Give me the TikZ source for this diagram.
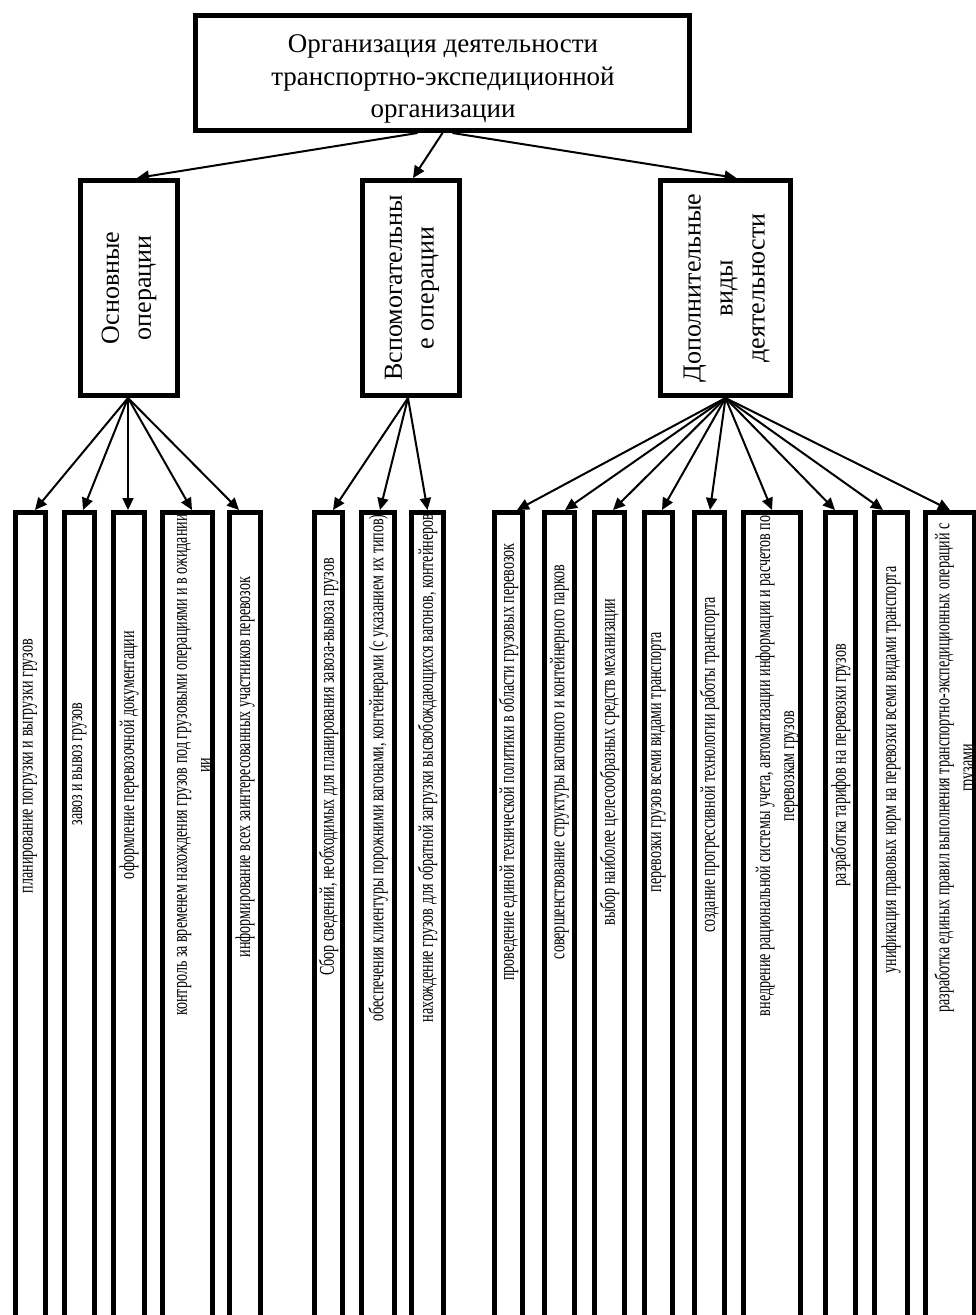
\documentclass[tikz,border=0pt]{standalone}
\usepackage{fontspec}
\setmainfont{Liberation Serif}
\newfontfamily\narrowf[FakeStretch=0.67]{Liberation Serif}
\usetikzlibrary{arrows.meta,calc}
\begin{document}
\begin{tikzpicture}[x=1pt,y=-1pt,
  bigbox/.style={draw, line width=5pt, inner sep=0pt},
  midbox/.style={draw, line width=5pt, minimum height=215pt, inner sep=0pt},
  leafbox/.style={draw, line width=5pt, minimum height=900pt, anchor=north, inner sep=0pt},
  toptext/.style={align=center, font=\fontsize{27}{32.5}\selectfont},
  midtext/.style={rotate=90, align=center, font=\fontsize{26}{32}\selectfont},
  leaftext/.style={rotate=90, align=center, inner sep=0pt, font=\narrowf\fontsize{21}{24}\selectfont},
  arr/.style={line width=2pt, -{Triangle[length=12pt,width=11pt]}}
]
\useasboundingbox (0,0) rectangle (976,1315);
\clip (0,0) rectangle (976,1315);

% top
\node[bigbox, minimum width=494pt, minimum height=115pt] (top) at (442.5,73) {};
\node[toptext] (ttop) at (443,79) {Организация деятельности\\транспортно-экспедиционной\\организации};

% middle level
\node[midbox, minimum width=97pt] (B1) at (129,288) {};
\node[midbox, minimum width=97pt] (B2) at (411,288) {};
\node[midbox, minimum width=130pt] (B3) at (725.5,288) {};
\node[midtext] (T1) at (B1.center) {Основные\\операции};
\node[midtext] (T2) at ([xshift=1pt]B2.center) {Вспомогательны\\е операции};
\node[midtext] (T3) at ([xshift=1pt]B3.center) {Дополнительные\\виды\\деятельности};

\draw[arr] ([xshift=-25pt]top.south) -- ([xshift=8pt]B1.north);
\draw[arr] ([xshift=0pt]top.south) -- ([xshift=2pt]B2.north);
\draw[arr] ([xshift=10pt]top.south) -- ([xshift=11pt]B3.north);

% leaf boxes
\node[leafbox, minimum width=30pt] (L1) at (30,510) {};
\node[leafbox, minimum width=30pt] (L2) at (79.5,510) {};
\node[leafbox, minimum width=31pt] (L3) at (129,510) {};
\node[leafbox, minimum width=50pt] (L4) at (187.5,510) {};
\node[leafbox, minimum width=31pt] (L5) at (245,510) {};
\node[leafbox, minimum width=28pt] (L6) at (328.5,510) {};
\node[leafbox, minimum width=33pt] (L7) at (378,510) {};
\node[leafbox, minimum width=32pt] (L8) at (427.5,510) {};
\node[leafbox, minimum width=28pt] (La) at (508.5,510) {};
\node[leafbox, minimum width=30pt] (Lb) at (559.5,510) {};
\node[leafbox, minimum width=30pt] (Lc) at (609.5,510) {};
\node[leafbox, minimum width=28pt] (Ld) at (658.5,510) {};
\node[leafbox, minimum width=30pt] (Le) at (709.5,510) {};
\node[leafbox, minimum width=57pt] (Lf) at (772,510) {};
\node[leafbox, minimum width=30pt] (Lg) at (840.5,510) {};
\node[leafbox, minimum width=33pt] (Lh) at (891,510) {};
\node[leafbox, minimum width=49pt] (Li) at (950,510) {};

% leaf texts
\node[leaftext] (t1) at (30,766) {планирование погрузки и выгрузки грузов};
\node[leaftext] (t2) at (79.5,764) {завоз и вывоз грузов};
\node[leaftext] (t3) at (129,755) {оформление перевозочной документации};
\begin{scope}
\clip (163,515) rectangle (210,1315);
\node[leaftext] (t4) at (194,765) {контроль за временем нахождения грузов под грузовыми операциями и в ожидании\\ии};
\end{scope}
\node[leaftext] (t5) at (245,767) {информирование всех заинтересованных участников перевозок};
\node[leaftext] (t6) at (328.5,767) {Сбор сведений, необходимых для планирования завоза-вывоза грузов};
\node[leaftext] (t7) at (378,768) {обеспечения клиентуры порожними вагонами, контейнерами (с указанием их типов)};
\node[leaftext] (t8) at (427.5,768) {нахождение грузов для обратной загрузки высвобождающихся вагонов, контейнеров};
\node[leaftext] (ta) at (508.5,762) {проведение единой технической политики в области грузовых перевозок};
\node[leaftext] (tb) at (559.5,762) {совершенствование структуры вагонного и контейнерного парков};
\node[leaftext] (tc) at (609.5,762) {выбор наиболее целесообразных средств механизации};
\node[leaftext] (td) at (658.5,762) {перевозки грузов всеми видами транспорта};
\node[leaftext] (te) at (709.5,765) {создание прогрессивной технологии работы транспорта};
\node[leaftext] (tf) at (777,766) {внедрение рациональной системы учета, автоматизации информации и расчетов по\\перевозкам грузов};
\node[leaftext] (tg) at (840.5,765) {разработка тарифов на перевозки грузов};
\node[leaftext] (th) at (891,770) {унификация правовых норм на перевозки всеми видами транспорта};
\node[leaftext] (ti) at (956,768) {разработка единых правил выполнения транспортно-экспедиционных операций с\\грузами};

% arrows to leaves
\draw[arr] ([xshift=-1pt]B1.south) -- ([xshift=5pt]L1.north);
\draw[arr] ([xshift=-1pt]B1.south) -- ([xshift=3.5pt]L2.north);
\draw[arr] ([xshift=-1pt]B1.south) -- ([xshift=-1pt]L3.north);
\draw[arr] ([xshift=-1pt]B1.south) -- ([xshift=4.5pt]L4.north);
\draw[arr] ([xshift=-1pt]B1.south) -- ([xshift=-6pt]L5.north);

\draw[arr] ([xshift=-3pt]B2.south) -- ([xshift=4.5pt]L6.north);
\draw[arr] ([xshift=-3pt]B2.south) -- ([xshift=2pt]L7.north);
\draw[arr] ([xshift=-3pt]B2.south) -- (L8.north);

\draw[arr] (B3.south) -- ([xshift=8.5pt]La.north);
\draw[arr] (B3.south) -- ([xshift=5.5pt]Lb.north);
\draw[arr] (B3.south) -- ([xshift=3.5pt]Lc.north);
\draw[arr] (B3.south) -- ([xshift=3.5pt]Ld.north);
\draw[arr] (B3.south) -- ([xshift=0.5pt]Le.north);
\draw[arr] (B3.south) -- (Lf.north);
\draw[arr] (B3.south) -- ([xshift=-5.5pt]Lg.north);
\draw[arr] (B3.south) -- ([xshift=-8pt]Lh.north);
\draw[arr] (B3.south) -- (Li.north);
\end{tikzpicture}
\end{document}
